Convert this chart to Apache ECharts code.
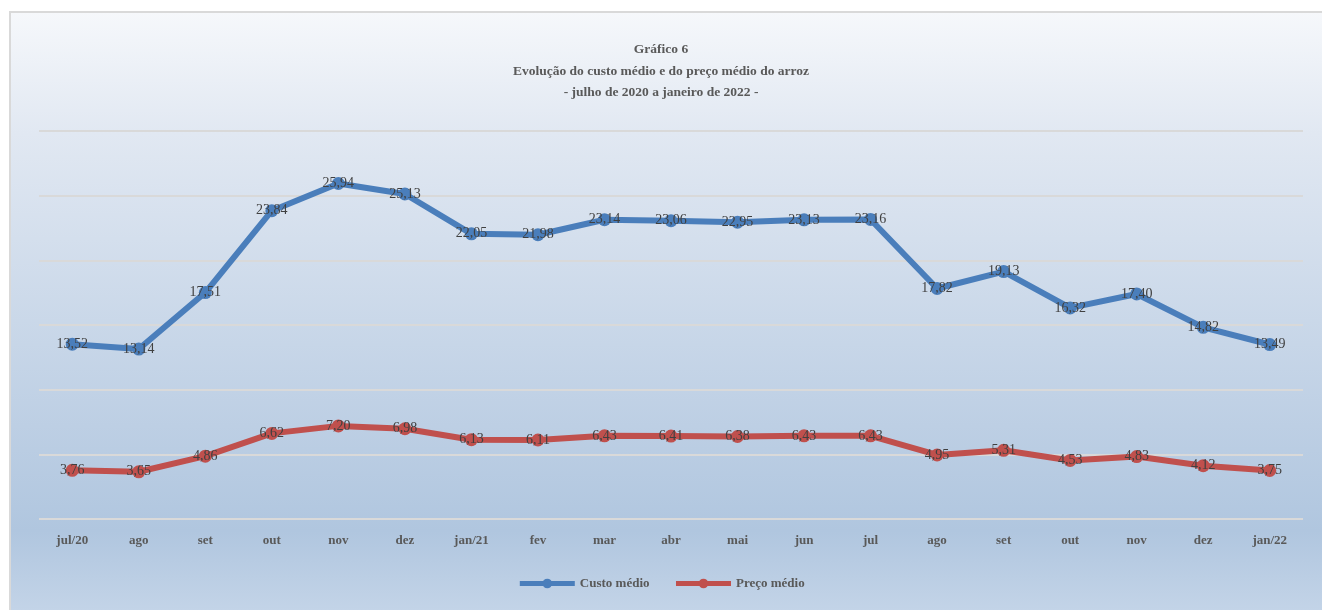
<!DOCTYPE html>
<html>
<head>
<meta charset="utf-8">
<script src="https://cdn.jsdelivr.net/npm/echarts@6/dist/echarts.min.js"></script>
<style>
  html, body { margin: 0; padding: 0; background: #ffffff; }
  #chart { width: 1322px; height: 610px; }
</style>
</head>
<body>
<div id="chart"></div>
<script>
var months = ['jul/20', 'ago', 'set', 'out', 'nov', 'dez', 'jan/21', 'fev', 'mar', 'abr', 'mai', 'jun', 'jul', 'ago', 'set', 'out', 'nov', 'dez', 'jan/22'];
var custoMedio = [13.52, 13.14, 17.51, 23.84, 25.94, 25.13, 22.05, 21.98, 23.14, 23.06, 22.95, 23.13, 23.16, 17.82, 19.13, 16.32, 17.40, 14.82, 13.49];
var precoMedio = [3.76, 3.65, 4.86, 6.62, 7.20, 6.98, 6.13, 6.11, 6.43, 6.41, 6.38, 6.43, 6.43, 4.95, 5.31, 4.53, 4.83, 4.12, 3.75];
var titleLines = ['Gráfico 6', 'Evolução do custo médio e do preço médio do arroz', '- julho de 2020 a janeiro de 2022 -'];

var font = '"Liberation Serif", "DejaVu Serif", serif';
var blue = '#4a7ebb';
var red = '#c0504d';

function fmt(p) { return p.value.toFixed(2).replace('.', ','); }

var chart = echarts.init(document.getElementById('chart'), null, { renderer: 'canvas' });
chart.setOption({
  animation: false,
  graphic: [{
    type: 'rect',
    z: -10,
    shape: { x: 10, y: 12, width: 1330, height: 610 },
    style: {
      fill: new echarts.graphic.LinearGradient(0, 0, 0, 1, [
        { offset: 0, color: '#f6f8fb' },
        { offset: 0.2, color: '#e1e8f2' },
        { offset: 0.85, color: '#b0c6df' },
        { offset: 1, color: '#c6d6e9' }
      ]),
      stroke: '#d9d9d9',
      lineWidth: 2
    }
  }],
  title: {
    text: titleLines.join('\n'),
    left: 'center',
    top: 34,
    textStyle: { fontFamily: font, fontSize: 13.5, fontWeight: 'bold', color: '#595959', lineHeight: 21.5 }
  },
  legend: {
    bottom: 15,
    left: 'center',
    itemWidth: 55,
    itemHeight: 12,
    itemGap: 24,
    lineStyle: { width: 5 },
    textStyle: { fontFamily: font, fontSize: 13, fontWeight: 'bold', color: '#595959' },
    data: ['Custo médio', 'Preço médio']
  },
  grid: { left: 39, right: 19, top: 131, bottom: 91 },
  xAxis: {
    type: 'category',
    data: months,
    boundaryGap: true,
    axisLine: { show: false },
    axisTick: { show: false },
    axisLabel: { fontFamily: font, fontSize: 13, fontWeight: 'bold', color: '#595959', margin: 15 }
  },
  yAxis: {
    type: 'value',
    min: 0,
    max: 30,
    interval: 5,
    axisLabel: { show: false },
    axisLine: { show: false },
    axisTick: { show: false },
    splitLine: { lineStyle: { color: '#d9d9d9', width: 2 } }
  },
  series: [
    {
      name: 'Custo médio',
      type: 'line',
      data: custoMedio,
      symbol: 'circle',
      symbolSize: 13,
      lineStyle: { color: blue, width: 6 },
      itemStyle: { color: blue },
      label: { show: true, position: 'inside', formatter: fmt, fontFamily: font, fontSize: 14, color: '#404040' }
    },
    {
      name: 'Preço médio',
      type: 'line',
      data: precoMedio,
      symbol: 'circle',
      symbolSize: 13,
      lineStyle: { color: red, width: 6 },
      itemStyle: { color: red },
      label: { show: true, position: 'inside', formatter: fmt, fontFamily: font, fontSize: 14, color: '#404040' }
    }
  ]
});
</script>
</body>
</html>
